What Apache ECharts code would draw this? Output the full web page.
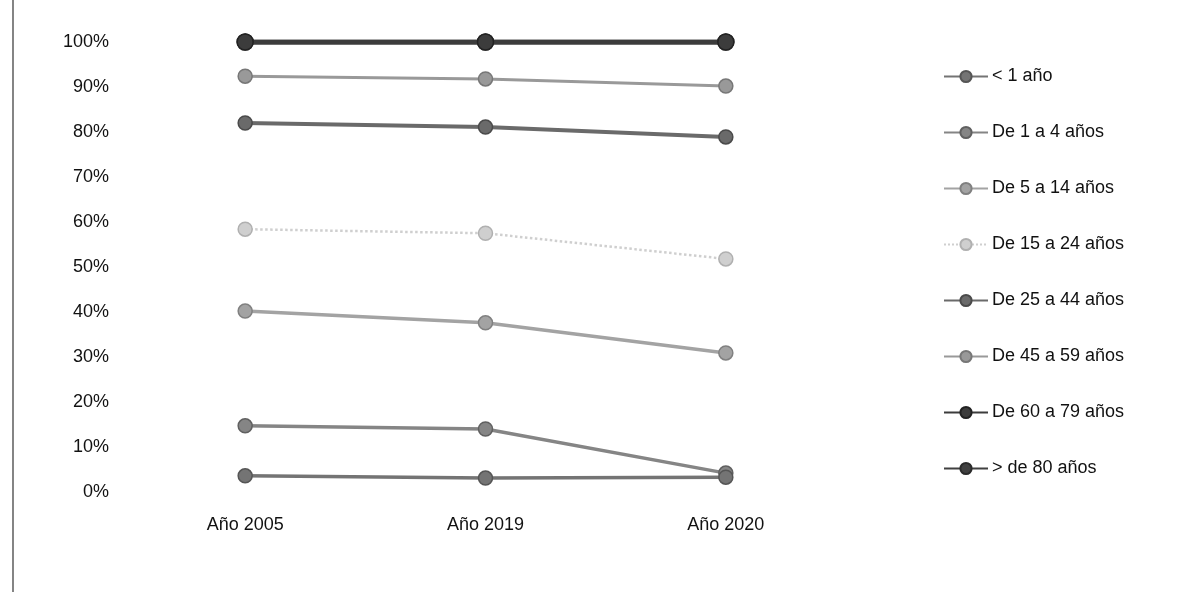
<!DOCTYPE html>
<html>
<head>
<meta charset="utf-8">
<script src="https://cdn.jsdelivr.net/npm/echarts@6/dist/echarts.min.js"></script>
<style>
html,body{margin:0;padding:0;background:#fff;}
#chart{width:1183px;height:592px;}
</style>
</head>
<body>
<div id="chart"></div>
<script>
const categories = ['Año 2005', 'Año 2019', 'Año 2020'];
const seriesNames = ['< 1 año', 'De 1 a 4 años', 'De 5 a 14 años', 'De 15 a 24 años', 'De 25 a 44 años', 'De 45 a 59 años', 'De 60 a 79 años', '> de 80 años'];
const menos1 = [3.6, 3.1, 3.3];
const de1a4 = [14.7, 14.0, 4.2];
const de5a14 = [40.2, 37.6, 30.9];
const de15a24 = [58.4, 57.5, 51.8];
const de25a44 = [82.0, 81.1, 78.9];
const de45a59 = [92.4, 91.8, 90.2];
const de60a79 = [100, 100, 100];
const mas80 = [100, 100, 100];
const seriesData = [menos1, de1a4, de5a14, de15a24, de25a44, de45a59, de60a79, mas80];

const colors = ['#747474', '#858585', '#a3a3a3', '#cfcfcf', '#6a6a6a', '#999999', '#3c3c3c', '#404040'];
const borders = ['#555555', '#606060', '#808080', '#b0b0b0', '#4a4a4a', '#777777', '#222222', '#2a2a2a'];
const widths = [3.5, 3.5, 3.5, 2.5, 4, 3, 5, 5];
const types = ['solid', 'solid', 'solid', 'dotted', 'solid', 'solid', 'solid', 'solid'];

const FONT = '"Liberation Sans Narrow", "Liberation Sans", sans-serif';

const chart = echarts.init(document.getElementById('chart'));
chart.setOption({
  animation: false,
  backgroundColor: '#ffffff',
  textStyle: { fontFamily: FONT },
  graphic: [{
    type: 'line', shape: { x1: 13, y1: 0, x2: 13, y2: 592 },
    style: { stroke: '#333', lineWidth: 1.2 }
  }],
  grid: { left: 125, right: 337, top: 42, bottom: 100 },
  legend: {
    orient: 'vertical',
    left: 938,
    top: 62,
    itemWidth: 44,
    itemHeight: 14,
    itemGap: 37,
    textStyle: { fontFamily: FONT, fontSize: 18, color: '#111', lineHeight: 19, padding: [0, 0, 0, -1] },
    data: seriesNames
  },
  xAxis: {
    type: 'category',
    data: categories,
    boundaryGap: true,
    axisLine: { show: false },
    axisTick: { show: false },
    axisLabel: { fontFamily: FONT, fontSize: 18, color: '#111', margin: 24 }
  },
  yAxis: {
    type: 'value',
    min: 0, max: 100, interval: 10,
    axisLine: { show: false },
    axisTick: { show: false },
    splitLine: { show: false },
    axisLabel: { fontFamily: FONT, fontSize: 18, color: '#111', margin: 16, formatter: '{value}%' }
  },
  series: seriesNames.map((name, i) => ({
    name: name,
    type: 'line',
    data: seriesData[i],
    symbol: 'circle',
    symbolSize: i >= 6 ? 16 : 14,
    lineStyle: { color: colors[i], width: widths[i], type: types[i] },
    itemStyle: { color: colors[i], borderColor: borders[i], borderWidth: 1.5 },
    z: 10 - i
  }))
});
</script>
</body>
</html>
